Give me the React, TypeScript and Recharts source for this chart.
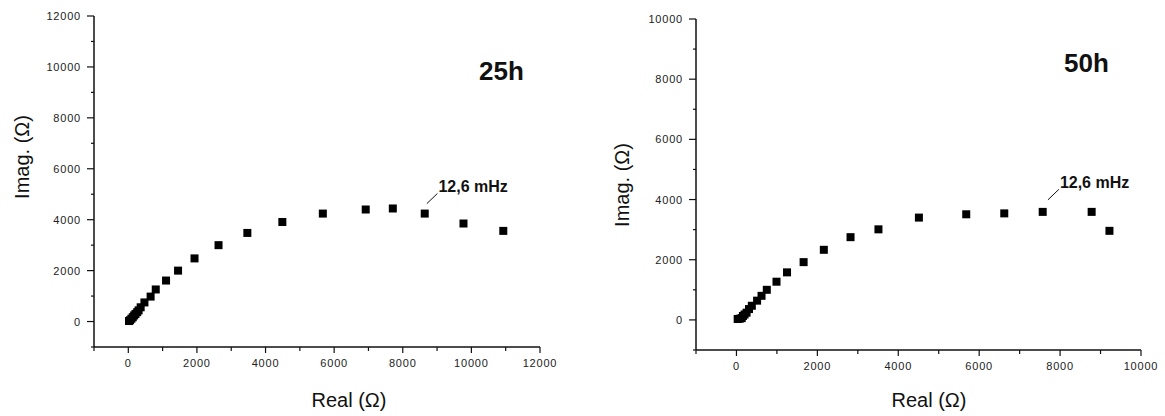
import React from 'react';
import {
    ScatterChart,
    Scatter,
    XAxis,
    YAxis,
    ReferenceLine,
} from 'recharts';

// Nyquist data (Ohm)
const real25 = [20, 50, 90, 130, 170, 210, 260, 300, 360, 470, 650, 800, 1100, 1450, 1930, 2630, 3470, 4490, 5670, 6920, 7710, 8640, 9770, 10930];
const imag25 = [20, 50, 110, 170, 240, 300, 370, 440, 560, 750, 980, 1260, 1610, 2000, 2480, 3000, 3480, 3910, 4240, 4400, 4440, 4240, 3850, 3560];

const real50 = [30, 80, 130, 160, 200, 250, 310, 380, 510, 620, 750, 990, 1250, 1660, 2160, 2820, 3510, 4510, 5680, 6620, 7570, 8780, 9220];
const imag50 = [30, 40, 60, 130, 180, 240, 360, 470, 640, 800, 1000, 1270, 1580, 1920, 2330, 2750, 3010, 3400, 3510, 3540, 3590, 3590, 2960];

const ticks25 = [-1000, 0, 1000, 2000, 3000, 4000, 5000, 6000, 7000, 8000, 9000, 10000, 11000, 12000];
const ticks50 = [-1000, 0, 1000, 2000, 3000, 4000, 5000, 6000, 7000, 8000, 9000, 10000];

const data25 = real25.map((x, i) => ({ x, y: imag25[i] }));
const data50 = real50.map((x, i) => ({ x, y: imag50[i] }));

const FONT = '"Liberation Sans", Arial, sans-serif';
const INK = '#111';

const tickText = { fontFamily: FONT, fontSize: 11, fill: '#222', letterSpacing: 0.8 };

const YTick = (props: any) => {
    const { x, y, payload } = props;
    const major = payload.value % 2000 === 0;
    return (
        <g>
            <line x1={x - (major ? 7 : 3)} x2={x} y1={y} y2={y} stroke={INK} strokeWidth={1.2} />
            {major && (
                <text x={x - 13} y={y + 4} textAnchor="end" {...tickText}>
                    {payload.value}
                </text>
            )}
        </g>
    );
};

const XTick = (props: any) => {
    const { x, y, payload } = props;
    const major = payload.value % 2000 === 0;
    return (
        <g>
            <line x1={x} x2={x} y1={y} y2={y + (major ? 6 : 4)} stroke={INK} strokeWidth={1.2} />
            {major && (
                <text x={x} y={y + 20} textAnchor="middle" {...tickText}>
                    {payload.value}
                </text>
            )}
        </g>
    );
};

const Square = (props: any) => (
    <rect x={props.cx - 4} y={props.cy - 4} width={8} height={8} fill="#000" />
);

// text sits just past the upper end of the leader line
const annot = (value: string) => (p: any) => (
    <text
        x={p.viewBox.x + (p.viewBox.width || 0) + 1}
        y={p.viewBox.y - 1}
        fontFamily={FONT}
        fontWeight="bold"
        fontSize={16}
        fill={INK}
    >
        {value}
    </text>
);

interface PanelProps {
    data: { x: number; y: number }[];
    ticks: number[];
    max: number;
    width: number;
    margin: { top: number; right: number; left: number; bottom: number };
    yWidth: number;
    xHeight: number;
    leader: [{ x: number; y: number }, { x: number; y: number }];
}

const Panel: React.FC<PanelProps> = ({ data, ticks, max, width, margin, yWidth, xHeight, leader }) => (
    <ScatterChart width={width} height={416} margin={margin}>
        <XAxis
            type="number"
            dataKey="x"
            domain={[-1000, max]}
            ticks={ticks}
            interval={0}
            tickSize={0}
            tickMargin={0}
            tickLine={false}
            tick={<XTick />}
            height={xHeight}
            axisLine={{ stroke: INK, strokeWidth: 1.5 }}
        />
        <YAxis
            type="number"
            dataKey="y"
            domain={[-1000, max]}
            ticks={ticks}
            interval={0}
            tickSize={0}
            tickMargin={0}
            tickLine={false}
            tick={<YTick />}
            width={yWidth}
            axisLine={{ stroke: INK, strokeWidth: 1.5 }}
        />
        <ReferenceLine segment={leader} stroke={INK} strokeWidth={1} label={annot('12,6 mHz')} ifOverflow="visible" />
        <Scatter data={data} shape={<Square />} isAnimationActive={false} />
    </ScatterChart>
);

const abs = (left: number, top: number, extra: React.CSSProperties = {}): React.CSSProperties => ({
    position: 'absolute',
    left,
    top,
    fontFamily: FONT,
    color: INK,
    lineHeight: 1,
    whiteSpace: 'nowrap',
    ...extra,
});

export default function App() {
    return (
        <div style={{ position: 'absolute', left: 0, top: 0, width: 1165, height: 416, background: '#fff' }}>
            <div style={{ position: 'absolute', left: 0, top: 0 }}>
                <Panel
                    data={data25}
                    ticks={ticks25}
                    max={12000}
                    width={580}
                    margin={{ top: 16, right: 40, left: 0, bottom: 0 }}
                    yWidth={94}
                    xHeight={69}
                    leader={[{ x: 8700, y: 4630 }, { x: 9010, y: 5030 }]}
                />
            </div>
            <div style={{ position: 'absolute', left: 580, top: 0 }}>
                <Panel
                    data={data50}
                    ticks={ticks50}
                    max={10000}
                    width={585}
                    margin={{ top: 19, right: 24, left: 0, bottom: 0 }}
                    yWidth={116}
                    xHeight={66}
                    leader={[{ x: 7700, y: 3990 }, { x: 7970, y: 4340 }]}
                />
            </div>

            <div style={abs(22, 157, { fontSize: 20, transform: 'translate(-50%, -50%) rotate(-90deg)' })}>Imag. (Ω)</div>
            <div style={abs(622, 185, { fontSize: 20, transform: 'translate(-50%, -50%) rotate(-90deg)' })}>Imag. (Ω)</div>
            <div style={abs(349, 400, { fontSize: 20, transform: 'translate(-50%, -50%)' })}>Real (Ω)</div>
            <div style={abs(929, 400, { fontSize: 20, transform: 'translate(-50%, -50%)' })}>Real (Ω)</div>

            <div style={abs(479, 58, { fontSize: 26, fontWeight: 'bold' })}>25h</div>
            <div style={abs(1064, 50, { fontSize: 26, fontWeight: 'bold' })}>50h</div>
        </div>
    );
}
